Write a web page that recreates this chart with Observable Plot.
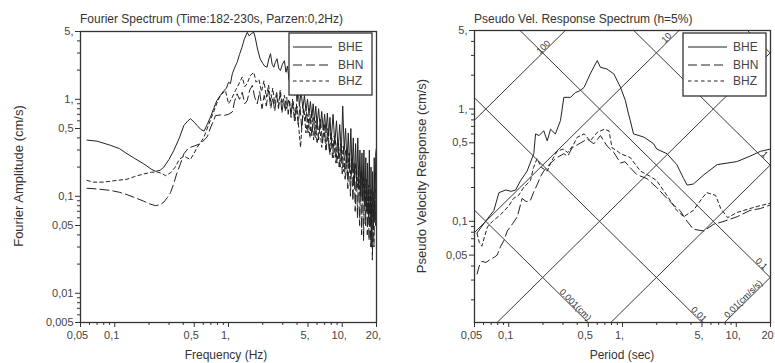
<!DOCTYPE html>
<html><head><meta charset="utf-8">
<script src="https://cdn.jsdelivr.net/npm/d3@7"></script>
<script src="https://cdn.jsdelivr.net/npm/@observablehq/plot@0.6"></script>
<style>
body{margin:0;background:#fff;}
#wrap{position:relative;width:775px;height:363px;overflow:hidden;font-family:"Liberation Sans",Arial,sans-serif;color:#333;background:#fff;}
.lbl{position:absolute;white-space:nowrap;transform:translate(-50%,-50%);font-size:13px;color:#333;}
.rot{transform:translate(-50%,-50%) rotate(-90deg);}
.title{position:absolute;white-space:nowrap;font-size:12px;color:#333;}
.chart{position:absolute;top:0;}
.legend{position:absolute;}
</style></head><body><div id="wrap"></div>
<script>
// ---------- data ----------
const seriesNames = ["BHE", "BHN", "BHZ"];

// Left: Fourier spectrum (frequency Hz, amplitude cm/s)
const fourierFreqBHE = [0.057,0.07,0.092,0.11,0.128,0.15,0.18,0.21,0.228,0.25,0.27,0.3,0.33,0.37,0.405,0.44,0.463,0.5,0.53,0.57,0.61,0.65,0.694,0.74,0.79,0.85,0.91,0.96,1.0,1.04,1.08,1.13,1.19,1.25,1.31,1.38,1.46,1.52,1.6,1.67,1.72,1.8,1.9,2.0,2.08,2.18,2.26,2.34,2.42,2.5,2.58,2.67,2.76,2.86,2.98,3.1,3.2,3.3,3.4,3.5,3.6,3.7,3.8,3.9,4.0,4.1,4.2,4.35,4.5,4.65,4.8,4.95,5.1,5.25,5.4,5.55,5.7,5.85,6.0,6.2,6.4,6.6,6.8,7.0,7.2,7.4,7.6,7.8,8.0,8.3,8.6,8.9,9.2,9.5,9.8,10.1,10.4,10.7,11.0,11.3,11.6,11.9,12.2,12.5,12.8,13.1,13.4,13.7,14.0,14.3,14.6,14.9,15.2,15.5,15.8,16.1,16.4,16.7,17.0,17.3,17.6,17.9,18.2,18.5,18.8,19.1,19.4,19.7,20];
const fourierAmpBHE = [0.38,0.37,0.335,0.31,0.275,0.245,0.216,0.19,0.181,0.185,0.2,0.24,0.296,0.4,0.537,0.6,0.63,0.58,0.537,0.49,0.47,0.55,0.655,0.8,0.97,1.1,1.23,1.3,1.5,1.45,1.83,2.1,2.4,2.9,3.4,4.2,4.9,4.5,4.8,4.9,4.3,3.3,2.6,2.35,2.2,2.14,2.6,2.95,2.3,2.14,2.4,2.62,2.1,1.98,2.3,2.5,1.9,2.2,1.6,2.0,1.3,1.7,1.1,1.5,0.95,1.3,0.85,1.2,0.8,1.1,0.75,1.0,0.7,0.95,0.65,0.9,0.6,0.85,0.55,0.8,0.5,0.75,0.48,0.7,0.45,0.72,0.42,0.65,0.38,0.7,0.35,0.6,0.3,0.55,0.28,0.85,0.3,0.5,0.22,0.45,0.2,0.5,0.18,0.4,0.15,0.35,0.14,0.4,0.12,0.3,0.1,0.28,0.09,0.3,0.08,0.25,0.07,0.22,0.06,0.3,0.05,0.2,0.03,0.18,0.045,0.25,0.06,0.28,0.32];

const fourierFreqBHN = [0.057,0.07,0.092,0.11,0.128,0.15,0.18,0.2,0.228,0.25,0.27,0.29,0.31,0.33,0.35,0.38,0.405,0.44,0.463,0.5,0.57,0.65,0.7,0.77,0.85,0.91,1.0,1.08,1.13,1.19,1.25,1.32,1.39,1.46,1.54,1.62,1.7,1.79,1.88,1.97,2.06,2.15,2.25,2.35,2.45,2.55,2.65,2.75,2.85,2.95,3.05,3.15,3.25,3.35,3.45,3.55,3.65,3.8,3.95,4.1,4.25,4.4,4.55,4.7,4.85,5.0,5.2,5.4,5.6,5.8,6.0,6.2,6.45,6.7,6.95,7.2,7.45,7.7,7.95,8.2,8.5,8.8,9.1,9.4,9.7,10.0,10.3,10.6,10.9,11.2,11.5,11.8,12.1,12.4,12.7,13.0,13.3,13.6,13.9,14.2,14.5,14.8,15.1,15.4,15.7,16.0,16.3,16.6,16.9,17.2,17.5,17.8,18.1,18.4,18.7,19.0,19.3,19.6,20];
const fourierAmpBHN = [0.121,0.119,0.115,0.11,0.104,0.097,0.089,0.084,0.08,0.082,0.087,0.097,0.11,0.135,0.17,0.22,0.274,0.31,0.32,0.33,0.35,0.41,0.52,0.68,0.69,0.68,0.7,0.74,0.95,1.14,1.0,1.18,0.9,0.97,1.25,1.39,1.05,0.9,1.2,0.8,1.1,0.85,1.25,0.8,1.05,0.75,1.1,0.8,1.15,0.72,1.0,0.75,1.05,0.7,0.95,0.65,1.0,0.6,0.9,0.55,0.85,0.5,0.8,0.6,0.75,0.45,0.7,0.42,0.65,0.4,0.6,0.38,0.62,0.35,0.55,0.3,0.5,0.28,0.45,0.25,0.42,0.22,0.4,0.2,0.35,0.17,0.33,0.15,0.3,0.12,0.28,0.1,0.25,0.09,0.22,0.07,0.2,0.06,0.18,0.05,0.15,0.04,0.16,0.035,0.12,0.05,0.15,0.04,0.12,0.035,0.1,0.03,0.08,0.022,0.07,0.03,0.09,0.05,0.1];

const fourierFreqBHZ = [0.057,0.065,0.08,0.1,0.128,0.15,0.18,0.21,0.236,0.26,0.28,0.31,0.34,0.37,0.405,0.43,0.463,0.5,0.53,0.57,0.61,0.67,0.74,0.8,0.85,0.94,1.0,1.06,1.15,1.22,1.32,1.39,1.46,1.55,1.67,1.75,1.85,1.95,2.05,2.15,2.25,2.35,2.45,2.55,2.65,2.75,2.85,2.95,3.1,3.25,3.4,3.55,3.7,3.85,4.0,4.15,4.3,4.45,4.6,4.8,5.0,5.2,5.4,5.6,5.8,6.0,6.3,6.6,6.9,7.2,7.5,7.8,8.1,8.4,8.7,9.0,9.3,9.6,9.9,10.3,10.7,11.1,11.5,11.9,12.3,12.7,13.1,13.5,13.9,14.3,14.7,15.1,15.5,15.9,16.3,16.7,17.1,17.5,17.9,18.3,18.7,19.1,19.5,20];
const fourierAmpBHZ = [0.146,0.14,0.14,0.145,0.15,0.16,0.17,0.177,0.178,0.172,0.163,0.175,0.2,0.24,0.26,0.25,0.24,0.28,0.32,0.36,0.41,0.55,0.74,0.95,1.1,1.23,0.9,1.0,1.23,1.4,1.7,1.35,1.45,1.75,1.9,1.5,1.6,1.2,1.55,1.05,1.4,0.95,1.3,0.9,1.2,0.85,1.25,0.9,1.1,0.8,1.0,0.7,0.95,0.6,0.85,0.5,0.32,0.6,0.8,0.45,0.7,0.4,0.75,0.38,0.6,0.35,0.55,0.32,0.5,0.3,0.45,0.27,0.4,0.25,0.38,0.22,0.35,0.2,0.33,0.18,0.3,0.16,0.28,0.15,0.26,0.13,0.22,0.12,0.2,0.1,0.18,0.09,0.16,0.08,0.15,0.07,0.13,0.065,0.12,0.06,0.11,0.07,0.12,0.1];

const freqMajor = [0.05,0.1,0.5,1,5,10,20];
const freqMajorLabels = ["0,05","0,1","0,5","1,","5,","10,","20,"];
const freqMinor = [0.06,0.07,0.08,0.09,0.2,0.3,0.4,0.6,0.7,0.8,0.9,2,3,4,6,7,8,9];
const ampMajor = [0.005,0.01,0.05,0.1,0.5,1,5];
const ampMajorLabels = ["0,005","0,01","0,05","0,1","0,5","1,","5,"];
const ampMinor = [0.006,0.007,0.008,0.009,0.02,0.03,0.04,0.06,0.07,0.08,0.09,0.2,0.3,0.4,0.6,0.7,0.8,0.9,2,3,4];

// Right: pseudo velocity response spectrum (period s, PSV cm/s)
const periodBHE = [0.0527,0.0625,0.074,0.082,0.094,0.105,0.115,0.127,0.145,0.166,0.172,0.185,0.203,0.218,0.233,0.257,0.285,0.305,0.35,0.385,0.42,0.46,0.52,0.6,0.64,0.73,0.84,0.96,1.06,1.13,1.17,1.25,1.4,1.55,1.88,2.0,2.46,3.0,3.45,3.7,4.2,5.2,6.8,10.1,13.2,16.3,20];
const psvBHE = [0.079,0.1,0.125,0.18,0.19,0.185,0.19,0.23,0.28,0.4,0.6,0.58,0.64,0.52,0.66,0.6,0.79,1.27,1.27,1.4,1.45,1.56,2.05,2.7,2.35,2.27,2.05,1.56,1.19,0.9,0.79,0.6,0.58,0.56,0.49,0.44,0.4,0.32,0.24,0.21,0.215,0.26,0.32,0.34,0.38,0.42,0.44];
const periodBHN = [0.0527,0.055,0.058,0.063,0.069,0.075,0.079,0.085,0.091,0.097,0.108,0.119,0.131,0.142,0.155,0.165,0.177,0.19,0.203,0.233,0.266,0.305,0.33,0.36,0.43,0.49,0.56,0.64,0.73,0.84,0.96,1.05,1.17,1.34,1.64,2.0,2.46,2.8,3.2,3.7,4.2,5.2,6.3,7.8,10.2,13.2,16.3,20];
const psvBHN = [0.034,0.04,0.044,0.043,0.046,0.048,0.05,0.06,0.068,0.082,0.095,0.11,0.16,0.15,0.153,0.18,0.21,0.25,0.28,0.33,0.37,0.4,0.38,0.45,0.5,0.54,0.49,0.58,0.47,0.41,0.33,0.34,0.3,0.26,0.24,0.2,0.16,0.14,0.125,0.1,0.085,0.082,0.094,0.1,0.11,0.125,0.13,0.14];
const periodBHZ = [0.0527,0.055,0.058,0.061,0.065,0.072,0.085,0.1,0.11,0.122,0.135,0.155,0.165,0.177,0.195,0.218,0.24,0.266,0.3,0.33,0.37,0.4,0.46,0.52,0.6,0.69,0.76,0.81,0.88,0.96,1.17,1.3,1.44,1.77,2.0,2.46,3.0,3.45,4.2,5.0,5.5,6.6,7.3,8.4,10.2,13.2,16.3,20];
const psvBHZ = [0.078,0.065,0.06,0.072,0.089,0.1,0.115,0.137,0.16,0.17,0.2,0.23,0.3,0.36,0.3,0.28,0.35,0.42,0.44,0.41,0.48,0.56,0.6,0.52,0.62,0.66,0.64,0.45,0.43,0.4,0.37,0.32,0.28,0.25,0.23,0.17,0.125,0.11,0.125,0.16,0.18,0.17,0.13,0.108,0.12,0.13,0.138,0.145];

const periodMajor = [0.05,0.1,0.5,1,5,10,20];
const periodMajorLabels = ["0,05","0,1","0,5","1,","5,","10,","20"];
const periodMinor = [0.06,0.07,0.08,0.09,0.2,0.3,0.4,0.6,0.7,0.8,0.9,2,3,4,6,7,8,9];
const psvMajor = [0.05,0.1,0.5,1,5];
const psvMajorLabels = ["0,05","0,1","0,5","1,","5,"];
const psvMinor = [0.02,0.03,0.04,0.06,0.07,0.08,0.09,0.2,0.3,0.4,0.6,0.7,0.8,0.9,2,3,4];

// tripartite guide lines
const dispValues = [0.001, 0.01, 0.1, 1, 10];          // cm
const accelValues = [0.01, 0.1, 1, 10, 100];           // cm/s/s
const dispLabelTexts = ["0.001(cm)", "0.01", "0.1", "1"];
const dispLabelValues = [0.001, 0.01, 0.1, 1];
const dispLabelPeriods = [0.37, 4.5, 16.0, 17.0];
const accelLabelTexts = ["100", "10", "1", "0.01(cm/s/s)"];
const accelLabelValues = [100, 10, 1, 0.01];
const accelLabelPeriods = [0.21, 2.54, 17.0, 12.0];

// ---------- build ----------
const wrap = document.getElementById("wrap");
const FONT = '"Liberation Sans", Arial, sans-serif';
const ink = "#222";
const dashes = {BHE: null, BHN: "9,4", BHZ: "3.5,3"};
const noLabel = () => "";

function rows(xs, ys, name) { return xs.map((x, i) => ({x, y: ys[i], s: name})); }
function fmtFrom(vals, labs) { const m = new Map(vals.map((v, i) => [v, labs[i]])); return d => m.get(d) ?? ""; }
function seriesLines(sets) {
  return sets.map(([name, data]) => Plot.line(data, {x: "x", y: "y", stroke: ink, strokeWidth: 1, strokeDasharray: dashes[name], strokeLinejoin: "round"}));
}
function axes(xMaj, xMajL, xMin, yMaj, yMajL, yMin) {
  const common = {label: null, stroke: "#333", tickFormat: noLabel};
  return [
    Plot.axisX(xMin, {...common, tickSize: 3}),
    Plot.axisX(xMaj, {...common, tickSize: 5}),
    Plot.axisY(yMin, {...common, tickSize: 3}),
    Plot.axisY(yMaj, {...common, tickSize: 5}),
    Plot.text(xMaj, {x: d => d, text: fmtFrom(xMaj, xMajL), frameAnchor: "bottom", lineAnchor: "top", dy: 9, dx: -3, fill: "#444", fontSize: 11}),
    Plot.text(yMaj, {y: d => d, text: fmtFrom(yMaj, yMajL), frameAnchor: "left", textAnchor: "end", dx: -7, fill: "#444", fontSize: 11})
  ];
}

// Left chart
const L = {w: 390, h: 363, ml: 80, mr: 14, mt: 31, mb: 41};
const leftPlot = Plot.plot({
  width: L.w, height: L.h,
  marginLeft: L.ml, marginRight: L.mr, marginTop: L.mt, marginBottom: L.mb,
  x: {type: "log", domain: [0.05, 20], label: null},
  y: {type: "log", domain: [0.005, 5], label: null},
  style: {fontFamily: FONT, fontSize: "11px", color: "#444", background: "transparent", overflow: "visible"},
  marks: [
    ...axes(freqMajor, freqMajorLabels, freqMinor, ampMajor, ampMajorLabels, ampMinor),
    ...seriesLines([
      ["BHZ", rows(fourierFreqBHZ, fourierAmpBHZ, "BHZ")],
      ["BHN", rows(fourierFreqBHN, fourierAmpBHN, "BHN")],
      ["BHE", rows(fourierFreqBHE, fourierAmpBHE, "BHE")]
    ]),
    Plot.frame({stroke: "#333", strokeWidth: 1.3})
  ]
});
leftPlot.classList.add("chart");
leftPlot.style.left = "0px";
wrap.appendChild(leftPlot);

// Right chart
const R = {w: 385, h: 363, ml: 84, mr: 5, mt: 30, mb: 41};
const tDom = [0.05, 20];
const vMin = 2 * Math.PI * 0.0001 / 0.05; // bottom matches the 0.0001 cm line at the corner
const vDom = [vMin, 5];

function clippedSegment(kind, c) {
  // kind "d": V = 2*pi*c/T ; kind "a": V = c*T/(2*pi)
  let t0, t1;
  if (kind === "a") { t0 = Math.max(tDom[0], vDom[0] * 2 * Math.PI / c); t1 = Math.min(tDom[1], vDom[1] * 2 * Math.PI / c); }
  else { t0 = Math.max(tDom[0], 2 * Math.PI * c / vDom[1]); t1 = Math.min(tDom[1], 2 * Math.PI * c / vDom[0]); }
  if (!(t1 > t0)) return [];
  const f = t => kind === "a" ? c * t / (2 * Math.PI) : 2 * Math.PI * c / t;
  return [{x: t0, y: f(t0), g: kind + c}, {x: t1, y: f(t1), g: kind + c}];
}
const guideRows = [
  ...dispValues.flatMap(c => clippedSegment("d", c)),
  ...accelValues.flatMap(c => clippedSegment("a", c))
];
const xPerDec = (R.w - R.ml - R.mr) / Math.log10(tDom[1] / tDom[0]);
const yPerDec = (R.h - R.mt - R.mb) / Math.log10(vDom[1] / vDom[0]);
const ang = Math.atan2(yPerDec, xPerDec) * 180 / Math.PI;
const dispLabels = dispLabelTexts.map((t, i) => ({x: dispLabelPeriods[i], y: 2 * Math.PI * dispLabelValues[i] / dispLabelPeriods[i], t}));
const accelLabels = accelLabelTexts.map((t, i) => ({x: accelLabelPeriods[i], y: accelLabelValues[i] * accelLabelPeriods[i] / (2 * Math.PI), t}));

const rightPlot = Plot.plot({
  width: R.w, height: R.h,
  marginLeft: R.ml, marginRight: R.mr, marginTop: R.mt, marginBottom: R.mb,
  x: {type: "log", domain: tDom, label: null},
  y: {type: "log", domain: vDom, label: null},
  style: {fontFamily: FONT, fontSize: "11px", color: "#444", background: "transparent", overflow: "visible"},
  marks: [
    ...axes(periodMajor, periodMajorLabels, periodMinor, psvMajor, psvMajorLabels, psvMinor),
    Plot.line(guideRows, {x: "x", y: "y", z: "g", stroke: "#3a3a3a", strokeWidth: 1}),
    Plot.text(dispLabels, {x: "x", y: "y", text: "t", rotate: ang, lineAnchor: "bottom", textAnchor: "middle", fontSize: 9, fill: "#333", dy: -1}),
    Plot.text(accelLabels, {x: "x", y: "y", text: "t", rotate: -ang, lineAnchor: "bottom", textAnchor: "middle", fontSize: 9, fill: "#333", dy: -1}),
    ...seriesLines([
      ["BHZ", rows(periodBHZ, psvBHZ, "BHZ")],
      ["BHN", rows(periodBHN, psvBHN, "BHN")],
      ["BHE", rows(periodBHE, psvBHE, "BHE")]
    ]),
    Plot.frame({stroke: "#333", strokeWidth: 1.3})
  ]
});
rightPlot.classList.add("chart");
rightPlot.style.left = "390px";
wrap.appendChild(rightPlot);

// Titles and axis labels
function addDiv(cls, text, css) { const d = document.createElement("div"); d.className = cls; d.textContent = text; Object.assign(d.style, css); wrap.appendChild(d); return d; }
addDiv("title", "Fourier Spectrum (Time:182-230s, Parzen:0,2Hz)", {left: "80px", top: "12px"});
addDiv("title", "Pseudo Vel. Response Spectrum (h=5%)", {left: "474px", top: "12px"});
addDiv("lbl rot", "Fourier Amplitude (cm/s)", {left: "18px", top: "176px"});
addDiv("lbl", "Frequency (Hz)", {left: "226px", top: "355px", fontSize: "12px"});
addDiv("lbl rot", "Pseudo Velocity Response (cm/s)", {left: "421px", top: "176px"});
addDiv("lbl", "Period (sec)", {left: "622px", top: "355px", fontSize: "12px"});

// Legends
function legend(left, top, w, h, lx0, lx1, tx, ys) {
  const svg = d3.create("svg").attr("class", "legend").attr("width", w + 2).attr("height", h + 2)
    .style("left", (left - 1) + "px").style("top", (top - 1) + "px");
  svg.append("rect").attr("x", 1).attr("y", 1).attr("width", w).attr("height", h).attr("fill", "#fff").attr("stroke", "#333").attr("stroke-width", 1.3);
  seriesNames.forEach((n, i) => {
    svg.append("line").attr("x1", lx0).attr("x2", lx1).attr("y1", ys[i]).attr("y2", ys[i]).attr("stroke", ink).attr("stroke-width", 1.1).attr("stroke-dasharray", dashes[n]);
    svg.append("text").attr("x", tx).attr("y", ys[i]).attr("dy", "0.36em").attr("font-family", FONT).attr("font-size", 12).attr("fill", "#444").text(n);
  });
  wrap.appendChild(svg.node());
}
legend(289, 33, 83, 62, 5, 44, 50, [15, 33, 49]);
legend(683, 33, 83, 63, 6, 45, 51, [15, 33, 49]);
</script></body></html>
